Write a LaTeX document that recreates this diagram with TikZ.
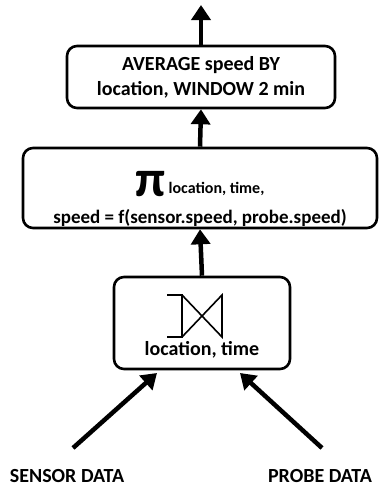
\documentclass[tikz,border=0pt]{standalone}
\usepackage{fontspec}
\setmainfont{Carlito}
\usetikzlibrary{arrows.meta}
\begin{document}
\begin{tikzpicture}[x=1pt,y=-1pt,
  opbox/.style={draw, line width=2.6pt, rounded corners=10pt, align=center, font=\bfseries\fontsize{20}{25}\selectfont},
  flow/.style={line width=4.5pt, -{Triangle[length=15pt,width=19pt]}},
  srclabel/.style={font=\bfseries\fontsize{20}{22}\selectfont}]
\useasboundingbox (0,0) rectangle (380,491);
% operators
\node [opbox, minimum width=268pt, minimum height=62pt, inner sep=0pt] (avg) at (201,77) {AVERAGE speed BY\\location, WINDOW 2 min};
\node [opbox, minimum width=354pt, minimum height=80pt, inner sep=0pt, font=\bfseries\fontsize{19}{30}\selectfont] (proj) at (200,188) {\rule{0pt}{44pt}\raisebox{-3pt}{\fontsize{52}{40}\selectfont π}\hspace{3pt}{\fontsize{16}{20}\selectfont location, time,}\\speed = f(sensor.speed, probe.speed)};
\node [opbox, minimum width=176pt, minimum height=92pt] (join) at (202,323) {};
\node [font=\bfseries\fontsize{20}{22}\selectfont] (joinkey) at (202,350) {location, time};
% join symbol
\draw [line width=1.6pt] (167,295) -- (182,295) -- (182,337) -- (167,337);
\draw [line width=1.6pt] (182,295) -- (222,337) -- (222,295) -- (182,337);
% sources
\node [srclabel] (sensor) at (67,476) {SENSOR DATA};
\node [srclabel] (probe) at (320,476) {PROBE DATA};
\coordinate (sensorin) at (73,448);
\coordinate (probein) at (322,448);
\coordinate (out) at (201,5);
% flows
\draw [flow] (sensorin) -- (157,373);
\draw [flow] (probein) -- (240,373);
\draw [flow] (join.north) -- (proj.south);
\draw [flow] (proj.north) -- (avg.south);
\draw [flow] (avg.north) -- (out);
\end{tikzpicture}
\end{document}
